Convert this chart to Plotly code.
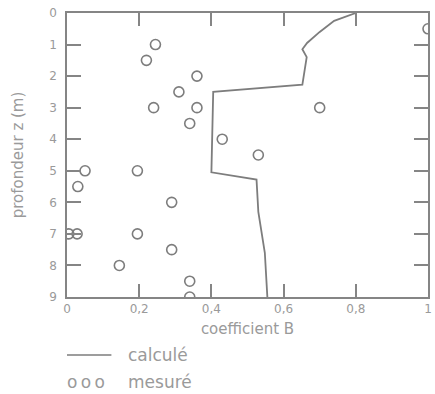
import plotly.graph_objects as go

# calculated curve (coefficient B vs depth z)
calc_B = [0.80, 0.74, 0.70, 0.665, 0.652, 0.664, 0.652, 0.405, 0.400, 0.525, 0.530, 0.548, 0.555]
calc_z = [0.0, 0.25, 0.60, 0.95, 1.15, 1.40, 2.27, 2.50, 5.05, 5.28, 6.30, 7.60, 9.00]

# measured points
meas_B = [1.00, 0.245, 0.22, 0.36, 0.31, 0.24, 0.36, 0.70, 0.34, 0.43, 0.53,
          0.05, 0.195, 0.03, 0.29, 0.005, 0.028, 0.195, 0.29, 0.145, 0.34, 0.34]
meas_z = [0.5, 1.0, 1.5, 2.0, 2.5, 3.0, 3.0, 3.0, 3.5, 4.0, 4.5,
          5.0, 5.0, 5.5, 6.0, 7.0, 7.0, 7.0, 7.5, 8.0, 8.5, 9.0]

x_ticks = [0, 0.2, 0.4, 0.6, 0.8, 1.0]
x_ticklabels = ["0", "0,2", "0,4", "0,6", "0,8", "1"]
y_ticks = list(range(0, 10))
y_ticklabels = [str(v) for v in y_ticks]

FONT = "DejaVu Sans"
TXT = "#9a9a9a"
LINE = "#858585"

fig = go.Figure()
fig.add_trace(go.Scatter(x=calc_B, y=calc_z, mode="lines", name="calculé",
                         line=dict(color="#7d7d7d", width=1.8), showlegend=False))
fig.add_trace(go.Scatter(x=meas_B, y=meas_z, mode="markers", name="mesuré",
                         marker=dict(symbol="circle-open", size=10,
                                     line=dict(color="#7d7d7d", width=1.6),
                                     color="#7d7d7d"),
                         showlegend=False))

fig.update_xaxes(range=[0, 1], tickmode="array", tickvals=x_ticks, ticktext=x_ticklabels,
                 showline=True, linecolor=LINE, linewidth=1.6, mirror="ticks",
                 ticks="inside", ticklen=13, tickwidth=1.5, tickcolor=LINE,
                 showgrid=False, zeroline=False,
                 tickfont=dict(family=FONT, size=12, color=TXT),
                 title=dict(text="coefficient B", standoff=8,
                            font=dict(family=FONT, size=15, color=TXT)))
fig.update_yaxes(range=[9, 0], tickmode="array", tickvals=y_ticks,
                 ticktext=[t + "\u2002" for t in y_ticklabels],
                 showline=True, linecolor=LINE, linewidth=1.6, mirror="ticks",
                 ticks="inside", ticklen=14, tickwidth=1.5, tickcolor=LINE,
                 showgrid=False, zeroline=False, automargin=True,
                 tickfont=dict(family=FONT, size=12, color=TXT),
                 title=dict(text="profondeur z (m)", standoff=22,
                            font=dict(family=FONT, size=15, color=TXT)))

# legend drawn beneath the plot (line sample + texts)
fig.add_shape(type="line", xref="paper", yref="paper", x0=0, x1=0.123,
              y0=-0.204, y1=-0.204, line=dict(color="#7d7d7d", width=1.6))
fig.add_annotation(xref="paper", yref="paper", x=0.164, y=-0.204, text="calculé",
                   showarrow=False, xanchor="left", yanchor="middle",
                   font=dict(family=FONT, size=17, color=TXT))
fig.add_annotation(xref="paper", yref="paper", x=-0.005, y=-0.299, text="o\u2009o\u2009o",
                   showarrow=False, xanchor="left", yanchor="middle",
                   font=dict(family=FONT, size=17, color=TXT))
fig.add_annotation(xref="paper", yref="paper", x=0.164, y=-0.299, text="mesuré",
                   showarrow=False, xanchor="left", yanchor="middle",
                   font=dict(family=FONT, size=17, color=TXT))

fig.update_layout(width=435, height=394, margin=dict(l=67, r=3, t=13, b=97),
                  paper_bgcolor="white", plot_bgcolor="white",
                  separators=",.", font=dict(family=FONT, color=TXT))

fig.write_html("out.html")
